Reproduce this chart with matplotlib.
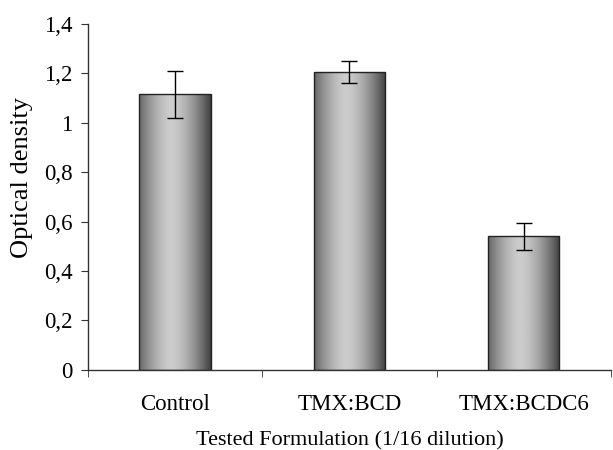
import numpy as np
import matplotlib
matplotlib.use("Agg")
import matplotlib.pyplot as plt
from matplotlib.ticker import FuncFormatter, FixedLocator

categories = ['Control', 'TMX:BCD', 'TMX:BCDC6']
values = [1.115, 1.205, 0.54]
errors = [0.095, 0.045, 0.055]

plt.rcParams['font.family'] = ['Liberation Serif', 'DejaVu Serif']

fig = plt.figure(figsize=(6.13, 4.5), dpi=100)
ax = fig.add_axes([0.1436, 0.178, 0.853, 0.769])

x = np.arange(len(categories))
bars = ax.bar(x, values, width=0.41, color='none', edgecolor='#222222', linewidth=1.0, zorder=3)

# cylinder-like shading: dark edges, light middle
t = np.linspace(0, 1, 256)
shade = 0.80 - 0.55 * np.abs((t - 0.45) / 0.55) ** 1.6
shade = np.clip(shade, 0.24, 0.81)
grad = np.tile(shade, (2, 1))
for b in bars:
    x0, y0 = b.get_x(), b.get_y()
    w, h = b.get_width(), b.get_height()
    ax.imshow(grad, cmap='gray', vmin=0, vmax=1, aspect='auto',
              extent=[x0, x0 + w, y0, y0 + h], zorder=2, interpolation='bilinear')

ax.errorbar(x, values, yerr=errors, fmt='none', ecolor='black', elinewidth=1.0,
            capsize=6, capthick=1.0, zorder=4)

ax.set_xlim(-0.5, len(categories) - 0.5)
ax.set_ylim(0, 1.4)
ax.set_yticks(np.arange(0, 1.41, 0.2))
ax.yaxis.set_major_formatter(FuncFormatter(lambda v, p: ('%g' % round(v, 1)).replace('.', ',')))
ax.xaxis.set_major_locator(FixedLocator(x))
ax.set_xticklabels(categories)
ax.xaxis.set_minor_locator(FixedLocator([-0.5, 0.5, 1.5, 2.5]))
ax.tick_params(axis='x', which='major', length=0, pad=17, labelsize=16.5)
ax.tick_params(axis='x', which='minor', length=5, direction='out', color='#333333')
ax.tick_params(axis='y', length=5, direction='out', labelsize=16.5, pad=6, color='#333333')

for s in ['top', 'right']:
    ax.spines[s].set_visible(False)
for s in ['left', 'bottom']:
    ax.spines[s].set_color('#333333')
    ax.spines[s].set_linewidth(1.0)

ax.set_ylabel('Optical density', fontsize=19)
ax.yaxis.set_label_coords(-0.105, 0.555)
ax.set_xlabel('Tested Formulation (1/16 dilution)', fontsize=16, labelpad=12)

fig.savefig('out.png', dpi=100)
